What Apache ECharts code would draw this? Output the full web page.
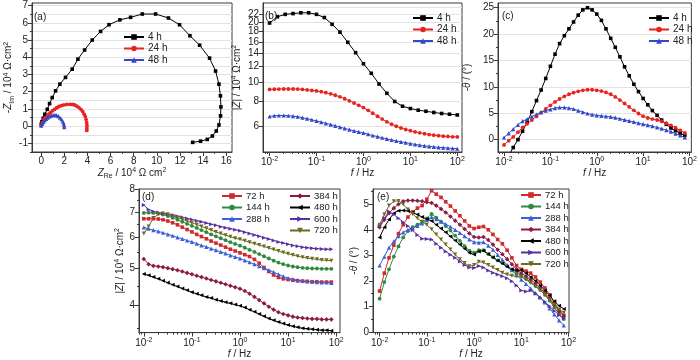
<!DOCTYPE html>
<html><head><meta charset="utf-8">
<script src="https://cdn.jsdelivr.net/npm/echarts@6/dist/echarts.min.js"></script>
<style>html,body{margin:0;padding:0;background:#fff}#c{width:700px;height:360px}</style>
</head><body><div id="c"></div><script>
// ---------- data ----------
const F10 = [0.01,0.0126,0.0158,0.02,0.0251,0.0316,0.0398,0.0501,0.0631,0.0794,0.1,0.126,0.158,0.2,0.251,0.316,0.398,0.501,0.631,0.794,1,1.26,1.58,2,2.51,3.16,3.98,5.01,6.31,7.94,10,12.6,15.8,20,25.1,31.6,39.8,50.1,63.1,79.4];
const F10B = [0.01,0.0126,0.0158,0.02,0.0251,0.0316,0.0398,0.0501,0.0631,0.0794,0.1,0.126,0.158,0.2,0.251,0.316,0.398,0.501,0.631,0.794,1,1.26,1.58,2,2.51,3.16,3.98,5.01,6.31,7.94,10,12.6,15.8,20,25.1,31.6,39.8,50.1,63.1,79.4,100];
const F6B = [0.01,0.0147,0.0215,0.0316,0.0464,0.0681,0.1,0.147,0.215,0.316,0.464,0.681,1,1.47,2.15,3.16,4.64,6.81,10,14.7,21.5,31.6,46.4,68.1,100];

// (a) Nyquist
const A4_RE = [0,0.06,0.17,0.31,0.52,0.72,0.95,1.24,1.61,2.1,2.68,3.17,3.75,4.41,5.13,5.86,6.8,7.73,8.74,9.89,11.0,11.96,12.86,13.7,14.56,15.08,15.37,15.5,15.54,15.51,15.37,15.14,14.8,14.36,13.78,13.1];
const A4_IM = [0.12,0.26,0.46,0.69,0.98,1.31,1.66,2.05,2.44,2.83,3.31,3.89,4.42,5.0,5.5,5.89,6.17,6.32,6.51,6.51,6.28,5.89,5.25,4.7,3.95,3.2,2.44,1.76,1.12,0.6,0.07,-0.28,-0.57,-0.77,-0.87,-0.94];
const A24_RE = [0,0.08,0.23,0.38,0.52,0.66,0.8,0.97,1.15,1.34,1.53,1.74,1.96,2.22,2.48,2.7,2.89,3.08,3.26,3.45,3.6,3.72,3.81,3.88,3.93,3.95,3.95,3.94];
const A24_IM = [0.05,0.2,0.4,0.5,0.59,0.7,0.79,0.89,0.98,1.07,1.14,1.19,1.23,1.26,1.27,1.26,1.23,1.16,1.08,0.96,0.83,0.69,0.55,0.38,0.2,0.05,-0.1,-0.25];
const A48_RE = [0,0.08,0.18,0.3,0.43,0.57,0.72,0.87,1.03,1.18,1.33,1.48,1.62,1.75,1.86,1.94,1.98,1.99];
const A48_IM = [0.03,0.14,0.24,0.33,0.42,0.5,0.56,0.61,0.64,0.65,0.63,0.58,0.5,0.4,0.28,0.16,0.04,-0.06];

// (b) |Z| (10^4 ohm cm2)
const B_4H = [19.9,21.4,22.0,22.2,22.4,22.4,22.0,21.2,19.6,17.9,15.9,14.1,12.4,11.1,9.8,8.8,8.0,7.57,7.37,7.23,7.14,7.04,6.96,6.9,6.84];
const B_24H = [9.2,9.22,9.24,9.25,9.25,9.25,9.24,9.2,9.15,9.1,9.04,8.96,8.86,8.74,8.6,8.44,8.26,8.06,7.86,7.65,7.45,7.22,6.98,6.74,6.52,6.32,6.15,6.0,5.88,5.78,5.7,5.62,5.56,5.5,5.45,5.41,5.38,5.35,5.33,5.31,5.3];
const B_48H = [6.72,6.78,6.8,6.8,6.78,6.75,6.7,6.63,6.55,6.47,6.38,6.3,6.21,6.12,6.03,5.94,5.85,5.77,5.69,5.62,5.55,5.47,5.39,5.32,5.25,5.18,5.12,5.06,5.01,4.96,4.91,4.86,4.82,4.78,4.75,4.72,4.7,4.68,4.66,4.64,4.62];

// (c) -theta (deg)
const C_4H = [-4.5,-3.0,-1.5,0,1.6,3.3,5.3,7.4,9.4,11.6,13.9,16.2,18.2,19.7,21.0,22.3,23.6,24.6,25.0,24.6,23.8,22.6,21.0,19.2,17.5,15.7,13.8,12.1,10.5,9.1,7.8,6.6,5.5,4.6,3.7,2.9,2.2,1.7,1.2,0.8];
const C_24H = [-1.0,-0.2,0.5,1.4,2.3,3.0,3.7,4.4,5.1,5.8,6.5,7.15,7.7,8.2,8.6,8.9,9.15,9.35,9.45,9.45,9.35,9.2,8.95,8.6,8.1,7.5,6.85,6.2,5.55,4.95,4.45,4.1,3.9,3.72,3.45,3.1,2.7,2.25,1.75,1.25];
const C_48H = [0.4,1.2,2.0,2.8,3.5,3.9,4.35,4.8,5.2,5.5,5.75,5.98,6.1,6.1,5.98,5.8,5.5,5.2,4.95,4.75,4.6,4.5,4.42,4.3,4.15,3.95,3.75,3.55,3.35,3.12,2.92,2.75,2.55,2.32,2.08,1.8,1.5,1.15,0.8,0.4];

// (d) |Z| (10^4 ohm cm2)
const D_72H = [6.72,6.72,6.72,6.71,6.68,6.63,6.56,6.48,6.39,6.3,6.21,6.12,6.04,5.96,5.88,5.81,5.74,5.67,5.6,5.54,5.48,5.42,5.36,5.27,5.15,5.02,4.9,4.8,4.73,4.69,4.67,4.65,4.64,4.63,4.62,4.61,4.61,4.6,4.6,4.6];
const D_144H = [6.96,6.97,6.96,6.93,6.89,6.83,6.76,6.68,6.6,6.52,6.44,6.36,6.28,6.2,6.12,6.05,5.98,5.91,5.84,5.78,5.72,5.65,5.58,5.51,5.44,5.37,5.3,5.23,5.17,5.12,5.08,5.05,5.03,5.01,5.0,4.99,4.99,4.98,4.98,4.98];
const D_288H = [6.38,6.33,6.28,6.23,6.18,6.12,6.07,6.01,5.96,5.9,5.85,5.79,5.73,5.68,5.62,5.57,5.51,5.46,5.4,5.35,5.3,5.24,5.18,5.12,5.06,5.0,4.94,4.88,4.82,4.76,4.71,4.68,4.65,4.63,4.62,4.61,4.6,4.59,4.59,4.58];
const D_384H = [5.28,5.12,5.07,5.05,5.03,5.0,4.97,4.94,4.9,4.86,4.82,4.78,4.74,4.7,4.66,4.62,4.58,4.54,4.5,4.46,4.42,4.36,4.29,4.21,4.13,4.05,3.97,3.9,3.84,3.8,3.77,3.74,3.72,3.71,3.7,3.69,3.69,3.68,3.68,3.68];
const D_480H = [4.83,4.79,4.74,4.69,4.64,4.58,4.53,4.48,4.43,4.38,4.33,4.29,4.25,4.21,4.18,4.14,4.11,4.08,4.05,4.02,3.99,3.95,3.9,3.85,3.8,3.75,3.7,3.66,3.62,3.59,3.56,3.53,3.51,3.49,3.48,3.47,3.46,3.45,3.45,3.44];
const D_600H = [7.3,7.1,7.02,6.98,6.94,6.9,6.86,6.82,6.78,6.73,6.69,6.64,6.6,6.55,6.5,6.46,6.41,6.37,6.33,6.29,6.25,6.2,6.15,6.1,6.05,6.0,5.95,5.9,5.85,5.81,5.77,5.73,5.7,5.67,5.65,5.63,5.62,5.61,5.6,5.6];
const D_720H = [6.15,6.42,6.75,6.9,6.93,6.9,6.84,6.77,6.7,6.63,6.56,6.49,6.42,6.35,6.28,6.21,6.15,6.09,6.03,5.98,5.94,5.89,5.84,5.79,5.74,5.69,5.64,5.59,5.54,5.49,5.45,5.41,5.37,5.34,5.31,5.29,5.27,5.25,5.24,5.23];

// (e) -theta (deg)
const E_72H = [1.6,2.3,2.9,3.4,3.85,4.2,4.5,4.7,4.85,4.95,5.2,5.53,5.4,5.27,5.1,4.93,4.74,4.55,4.35,4.15,4.05,4.1,4.13,4.0,3.82,3.62,3.45,3.2,2.9,2.6,2.45,2.38,2.3,2.15,1.95,1.72,1.45,1.15,0.85,0.65];
const E_144H = [1.3,1.95,2.45,2.95,3.35,3.7,3.95,4.1,4.2,4.3,4.45,4.62,4.48,4.32,4.15,3.97,3.77,3.57,3.36,3.18,3.1,3.2,3.2,3.05,2.92,2.8,2.7,2.58,2.45,2.32,2.2,2.08,1.95,1.8,1.65,1.45,1.22,0.95,0.7,0.5];
const E_288H = [2.6,2.95,3.3,3.55,3.75,3.9,4.0,4.08,4.15,4.25,4.38,4.5,4.42,4.32,4.22,4.12,4.0,3.88,3.75,3.62,3.52,3.5,3.52,3.38,3.22,3.02,2.82,2.62,2.42,2.22,2.05,1.88,1.7,1.52,1.35,1.15,0.92,0.68,0.45,0.25];
const E_384H = [4.1,4.4,4.65,4.85,5.0,5.12,5.15,5.15,5.14,5.12,5.08,5.05,4.95,4.82,4.68,4.52,4.36,4.2,4.03,3.86,3.72,3.7,3.72,3.6,3.42,3.22,3.04,2.85,2.65,2.45,2.3,2.18,2.05,1.9,1.72,1.52,1.3,1.05,0.8,0.6];
const E_480H = [3.7,4.1,4.4,4.65,4.75,4.76,4.74,4.68,4.6,4.5,4.42,4.35,4.2,4.05,3.9,3.74,3.58,3.42,3.26,3.1,3.03,3.15,3.18,3.05,2.92,2.8,2.68,2.55,2.45,2.4,2.42,2.3,2.15,2.0,1.82,1.62,1.42,1.2,1.02,0.9];
const E_600H = [4.15,4.45,4.72,4.6,4.45,4.3,4.15,3.98,3.8,3.65,3.64,3.62,3.45,3.3,3.15,3.02,2.9,2.76,2.62,2.52,2.5,2.58,2.52,2.4,2.32,2.25,2.18,2.1,1.98,1.82,1.62,1.58,1.62,1.5,1.35,1.18,1.0,0.82,0.65,0.52];
const E_720H = [4.2,4.6,4.95,5.12,5.13,5.0,4.8,4.62,4.45,4.32,4.2,4.02,3.82,3.62,3.42,3.23,3.03,2.85,2.7,2.57,2.62,2.75,2.72,2.62,2.52,2.42,2.32,2.25,2.2,2.18,2.15,2.05,1.92,1.78,1.62,1.45,1.25,1.05,0.88,0.75];

// tick labels
const FREQ_EXP = [-2,-1,0,1,2];
const A_XLABELS = [0,2,4,6,8,10,12,14,16];
const A_XMINOR = [1,3,5,7,9,11,13,15];
const A_YLABELS = [-1,0,1,2,3,4,5,6,7];
const A_YMINOR = [-1.5,-0.5,0.5,1.5,2.5,3.5,4.5,5.5,6.5];
const B_YLABELS = [6,8,10,12,14,16,18,20,22,24];
const C_YLABELS = [0,5,10,15,20,25];
const C_YMINOR = [2.5,7.5,12.5,17.5,22.5];
const D_YLABELS = [4,5,6,7,8];
const D_YMINOR = [3.5,4.5,5.5,6.5,7.5];
const E_YLABELS = [0,1,2,3,4,5];
const E_YMINOR = [0.5,1.5,2.5,3.5,4.5,5.5];

// ---------- helpers ----------
const FONT = '"Liberation Sans", Arial, sans-serif';
const TXT = '#222', LINE = '#3a3a3a';
const RICH = {
  b: {fontSize: 10, fontFamily: FONT, color: TXT, lineHeight: 13},
  i: {fontSize: 10, fontFamily: FONT, color: TXT, fontStyle: 'italic', lineHeight: 13},
  s: {fontSize: 7, fontFamily: FONT, color: TXT, verticalAlign: 'top', lineHeight: 6},
  u: {fontSize: 7, fontFamily: FONT, color: TXT, verticalAlign: 'bottom', lineHeight: 6}
};
const lg = a => a.map(v => Math.log10(v));
const pairs = (xs, ys) => xs.map((x, i) => [x, ys[i]]);
const minorLog = [];
[-3,-2,-1,0,1,2].forEach(n => { for (let k = 2; k <= 9; k++) minorLog.push(n + Math.log10(k)); });

const xAxis = [], yAxis = [];
function addAxes(list, dim, gi, min, max, labels, minor, fmt, name, gap, split, minorSplit) {
  const isX = dim === 'x';
  const idx = list.length;
  list.push({
    type: 'value', gridIndex: gi, min, max, position: isX ? 'bottom' : 'left',
    axisLine: {show: true, onZero: false, lineStyle: {color: LINE, width: 1}},
    axisTick: {show: true, length: 4, customValues: labels, lineStyle: {color: LINE}},
    axisLabel: {show: true, customValues: labels, formatter: fmt, margin: 4, color: TXT,
      fontFamily: FONT, fontSize: 10, rich: RICH},
    splitLine: {show: !!split, lineStyle: {color: '#e2e2e2', width: 1}},
    name, nameLocation: 'middle', nameGap: gap,
    nameTextStyle: {fontFamily: FONT, fontSize: 10, color: TXT, rich: RICH},
    silent: true
  });
  if (minor) {
    list.push({
      type: 'value', gridIndex: gi, min, max, position: isX ? 'bottom' : 'left',
      axisLine: {show: false, onZero: false},
      axisTick: {show: true, length: 2, customValues: minor, lineStyle: {color: LINE}},
      axisLabel: {show: false},
      splitLine: {show: !!minorSplit, lineStyle: {color: '#e2e2e2', width: 1}},
      silent: true
    });
  }
  return idx;
}
const fmtExp = v => '{b|10}{s|' + v + '}';
const fmtNum = v => String(v);
const fmtLog = v => String(Math.round(Math.pow(10, v)));
const NAME_F = '{i|f}{b| / Hz}';
const NAME_Z = '{b||}{i|Z}{b|| / 10}{s|4}{b| Ω·cm}{s|2}';
const NAME_T = '{b|-}{i|θ}{b| / (°)}';

const grid = [
  {left: 32, top: 3, width: 200, height: 149},
  {left: 263, top: 3, width: 199, height: 149},
  {left: 498, top: 3, width: 194, height: 149},
  {left: 139, top: 189, width: 201, height: 145},
  {left: 373, top: 189, width: 196, height: 145}
].map(g => Object.assign(g, {show: true, borderColor: LINE, borderWidth: 1, backgroundColor: 'transparent', containLabel: false}));

// axes
const ax = addAxes(xAxis, 'x', 0, -0.8, 16.5, A_XLABELS, A_XMINOR, fmtNum,
  '{i|Z}{u|Re}{b| / 10}{s|4}{b| Ω cm}{s|2}', 13);
const ay = addAxes(yAxis, 'y', 0, -1.5, 7.15, A_YLABELS, A_YMINOR, fmtNum,
  '{b|-}{i|Z}{u|Im}{b| / 10}{s|4}{b| Ω·cm}{s|2}', 14, true, true);
const bx = addAxes(xAxis, 'x', 1, -2.14, 2.1, FREQ_EXP, minorLog.filter(v => v > -2.14 && v < 2.1), fmtExp, NAME_F, 13);
const by = addAxes(yAxis, 'y', 1, Math.log10(4.45), Math.log10(25.1), lg(B_YLABELS), null, fmtLog, NAME_Z, 19, true);
const cx = addAxes(xAxis, 'x', 2, -2.13, 2.04, FREQ_EXP, minorLog.filter(v => v > -2.13 && v < 2.04), fmtExp, NAME_F, 12);
const cy = addAxes(yAxis, 'y', 2, -2.35, 25.9, C_YLABELS, C_YMINOR, fmtNum, NAME_T, 24, true);
const dx = addAxes(xAxis, 'x', 3, -2.1, 2.08, FREQ_EXP, minorLog.filter(v => v > -2.1 && v < 2.08), fmtExp, NAME_F, 12);
const dy = addAxes(yAxis, 'y', 3, Math.log10(3.4), Math.log10(8.03), lg(D_YLABELS), lg(D_YMINOR), fmtLog, NAME_Z, 12);
const ex = addAxes(xAxis, 'x', 4, -2.14, 2.01, FREQ_EXP, minorLog.filter(v => v > -2.14 && v < 2.01), fmtExp, NAME_F, 12);
const ey = addAxes(yAxis, 'y', 4, -0.03, 5.6, E_YLABELS, E_YMINOR, fmtNum, NAME_T, 12);

// symbols
const SQ = 'rect', CI = 'circle', TU = 'triangle', DI = 'diamond';
const TL = 'path://M10,0 L0,5 L10,10 Z';
const TR = 'path://M0,0 L10,5 L0,10 Z';
const TD = 'path://M0,0 L10,0 L5,10 Z';
const COL = {k: '#000000', r: '#e8231f', b: '#3548c8',
  r2: '#cf2a2c', g2: '#2e8a3c', b2: '#3b5fd8', m2: '#8a1c44', k2: '#000000', p2: '#5a2fa0', o2: '#6e6a1f'};

const series = [];
function S(name, xi, yi, data, color, symbol, size) {
  series.push({type: 'line', name, xAxisIndex: xi, yAxisIndex: yi, data, symbol, symbolSize: size,
    showSymbol: true, showAllSymbol: true, clip: true, animation: false,
    lineStyle: {color, width: 1}, itemStyle: {color, borderWidth: 0}, emphasis: {disabled: true}});
}
// (a)
S('4 h', ax, ay, pairs(A4_RE, A4_IM), COL.k, SQ, 3.6);
S('24 h', ax, ay, pairs(A24_RE, A24_IM), COL.r, CI, 3.8);
S('48 h', ax, ay, pairs(A48_RE, A48_IM), COL.b, TU, 4.2);
// (b)
S('4 h', bx, by, pairs(lg(F6B), lg(B_4H)), COL.k, SQ, 3.6);
S('24 h', bx, by, pairs(lg(F10B), lg(B_24H)), COL.r, CI, 3.8);
S('48 h', bx, by, pairs(lg(F10B), lg(B_48H)), COL.b, TU, 4.2);
// (c)
S('4 h', cx, cy, pairs(lg(F10), C_4H), COL.k, SQ, 3.6);
S('24 h', cx, cy, pairs(lg(F10), C_24H), COL.r, CI, 3.8);
S('48 h', cx, cy, pairs(lg(F10), C_48H), COL.b, TU, 4.2);
// (d), (e)
const DSETS = [['72 h', D_72H, E_72H, COL.r2, SQ, 3.6], ['144 h', D_144H, E_144H, COL.g2, CI, 3.8],
  ['288 h', D_288H, E_288H, COL.b2, TU, 4.2], ['384 h', D_384H, E_384H, COL.m2, DI, 4.6],
  ['480 h', D_480H, E_480H, COL.k2, TL, 4], ['600 h', D_600H, E_600H, COL.p2, TR, 4],
  ['720 h', D_720H, E_720H, COL.o2, TD, 4]];
DSETS.forEach(d => S(d[0], dx, dy, pairs(lg(F10), lg(d[1])), d[3], d[4], d[5]));
DSETS.forEach(d => S(d[0], ex, ey, pairs(lg(F10), d[2]), d[3], d[4], d[5]));

function legend(left, top, data, fs) {
  return {orient: 'vertical', left, top, data, itemWidth: 20, itemHeight: 7, itemGap: 1.5, padding: 0,
    selectedMode: false, textStyle: {fontFamily: FONT, fontSize: fs, color: TXT, lineHeight: 10, padding: [0, 0, 0, -1]}};
}
const ttl = (text, left, top) => ({text, left, top, padding: 0,
  textStyle: {fontFamily: FONT, fontSize: 10, fontWeight: 'normal', color: TXT}});

const chart = echarts.init(document.getElementById('c'), null, {renderer: 'canvas'});
chart.setOption({
  animation: false,
  backgroundColor: '#fff',
  title: [ttl('(a)', 34, 12), ttl('(b)', 265, 11), ttl('(c)', 502, 11), ttl('(d)', 142, 192), ttl('(e)', 377, 192)],
  legend: [
    legend(123, 32, ['4 h', '24 h', '48 h'], 10),
    legend(412, 13, ['4 h', '24 h', '48 h'], 10),
    legend(648, 13, ['4 h', '24 h', '48 h'], 10),
    legend(221, 191, ['72 h', '144 h', '288 h'], 9.5),
    legend(289, 191, ['384 h', '480 h', '600 h', '720 h'], 9.5),
    legend(520, 190, ['72 h', '144 h', '288 h', '384 h', '480 h', '600 h', '720 h'], 9.5)
  ],
  grid, xAxis, yAxis, series
});
</script></body></html>
